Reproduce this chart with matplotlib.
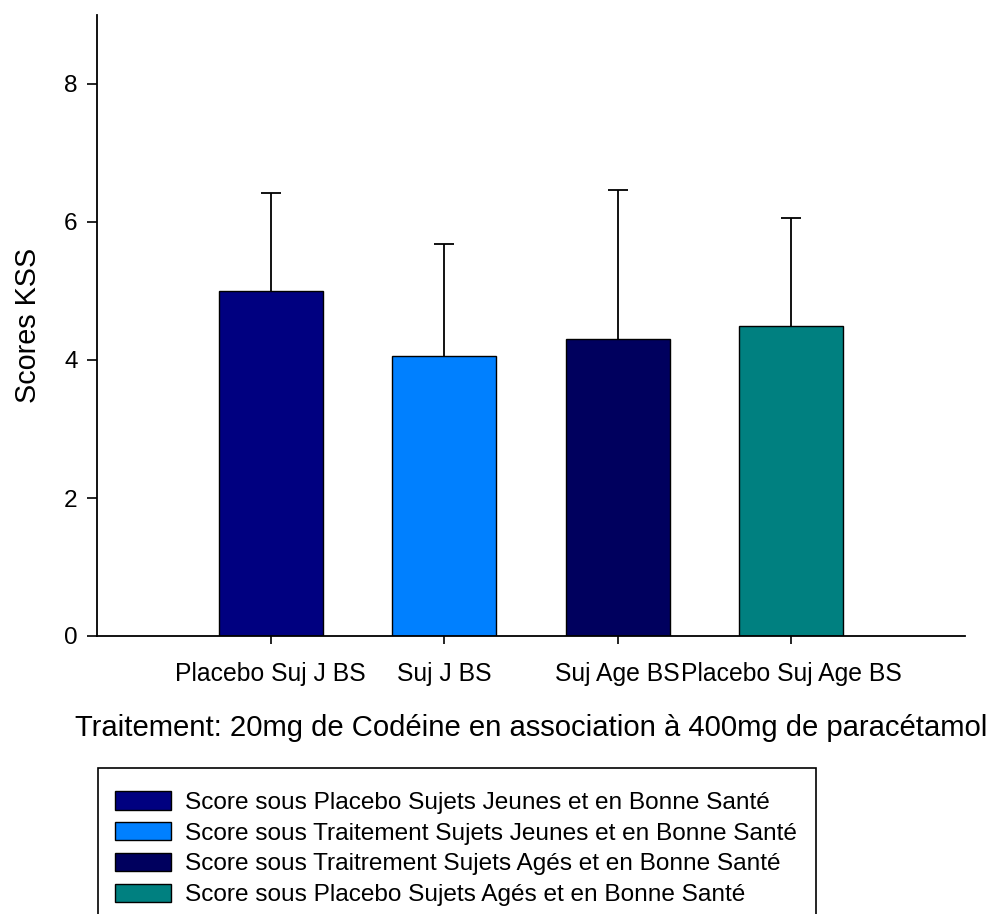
import matplotlib
matplotlib.use("Agg")
import matplotlib.pyplot as plt
from matplotlib.patches import Rectangle

plt.rcParams['font.family'] = ['Liberation Sans', 'DejaVu Sans']

categories = ["Placebo Suj J BS", "Suj J BS", "Suj Age BS", "Placebo Suj Age BS"]
means = [5.0, 4.06, 4.31, 4.50]
errors = [1.42, 1.62, 2.16, 1.56]
legend_labels = [
    "Score sous Placebo Sujets Jeunes et en Bonne Santé",
    "Score sous Traitement Sujets Jeunes et en Bonne Santé",
    "Score sous Traitrement Sujets Agés et en Bonne Santé",
    "Score sous Placebo Sujets Agés et en Bonne Santé",
]
colors = ["#000080", "#0080FF", "#00005E", "#008080"]

fig = plt.figure(figsize=(9.92, 9.14), dpi=100)
ax = fig.add_axes([97/992, 1-636/914, (965-97)/992, (636-15)/914])

x = [1, 2, 3, 4]
bars = []
for xi, m, e, c, lab in zip(x, means, errors, colors, legend_labels):
    b = ax.bar(xi, m, width=0.6, color=c, edgecolor='black', linewidth=1.0, label=lab, zorder=2)
    ax.errorbar(xi, m, yerr=[[0], [e]], fmt='none', ecolor='black', elinewidth=1.3,
                capsize=0, zorder=1)
    ax.plot([xi], [m + e], marker='_', markersize=14, markeredgewidth=1.3,
            color='black', zorder=1)
    bars.append(b[0])

ax.set_xlim(0, 5)
ax.set_ylim(0, 9)
ax.set_yticks([0, 2, 4, 6, 8])
ax.set_xticks(x)
ax.set_xticklabels(categories, fontsize=17.8)
ax.tick_params(axis='y', labelsize=17.6, length=7, width=1.2, direction='out', pad=7)
ax.tick_params(axis='x', length=6, width=1.2, direction='out', pad=13)
for s in ['top', 'right']:
    ax.spines[s].set_visible(False)
for s in ['left', 'bottom']:
    ax.spines[s].set_linewidth(1.3)

ax.set_ylabel("Scores KSS", fontsize=20.7, labelpad=16)
ax.set_xlabel("Traitement: 20mg de Codéine en association à 400mg de paracétamol",
              fontsize=21.1, labelpad=20)

# legend frame extending below the figure
fig.patches.append(Rectangle((98/992, -0.05), (816-98)/992, (1-768/914) + 0.05,
                             transform=fig.transFigure, fill=False,
                             edgecolor='black', linewidth=1.2))
fig.legend(handles=bars, labels=legend_labels, loc='upper left',
           bbox_to_anchor=(103/992, 1-779/914), frameon=False, fontsize=17.6,
           borderpad=0, handlelength=2.27, handleheight=0.78, handletextpad=0.57,
           labelspacing=0.33)

fig.savefig("out.png", dpi=100)
